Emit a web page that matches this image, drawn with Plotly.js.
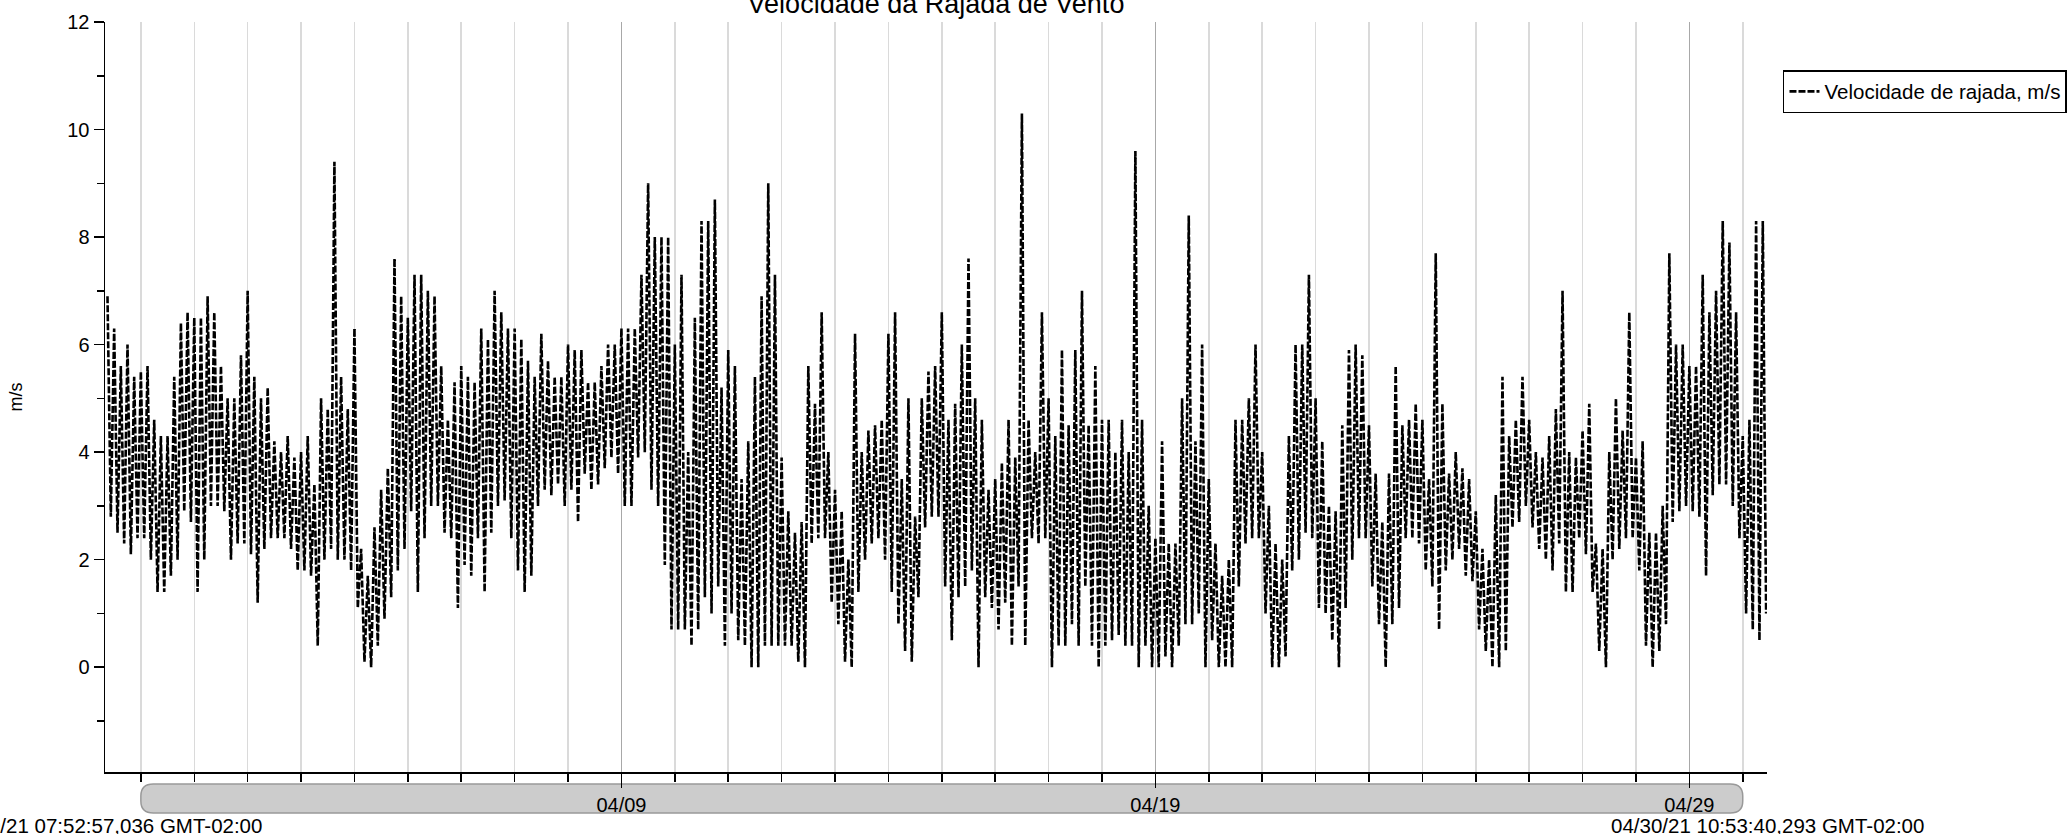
<!DOCTYPE html>
<html>
<head>
<meta charset="utf-8">
<script src="https://cdn.plot.ly/plotly-3.0.1.min.js"></script>
<style>html,body{margin:0;padding:0;background:#fff;}#chart{width:2067px;height:834px;}</style>
</head>
<body>
<div id="chart"></div>
<script>
// ---- data (3-hour slots from 2021-03-30 09:00; high value at slot start, low value 1.5 h later) ----
const rangeStart = '2021-03-30 07:52:57';
const rangeEnd = '2021-04-30 10:53:40';
const slotStart = '2021-03-30 09:00:00';
const slotHours = 3;
const seriesName = 'Velocidade de rajada, m/s';
const chartTitle = 'Velocidade da Rajada de Vento';
const yTitle = 'm/s';
const startLabel = '03/30/21 07:52:57,036 GMT-02:00';
const endLabel = '04/30/21 10:53:40,293 GMT-02:00';

const gustHigh = [
  6.9, 6.3, 5.6, 6.0, 5.4,                 // 03/30
  5.5, 5.6, 4.6, 4.3, 4.3, 5.4, 6.4, 6.6,  // 03/31
  6.5, 6.5, 6.9, 6.6, 5.6, 5.0, 5.0, 5.8,  // 04/01
  7.0, 5.4, 5.0, 5.2, 4.2, 4.0, 4.3, 3.9,  // 04/02
  4.0, 4.3, 3.4, 5.0, 4.8, 9.4, 5.4, 4.8,  // 04/03
  6.3, 2.2, 1.7, 2.6, 3.3, 3.7, 7.6, 6.9,  // 04/04
  6.5, 7.3, 7.3, 7.0, 6.9, 5.6, 4.6, 5.3,  // 04/05
  5.6, 5.4, 5.3, 6.3, 6.1, 7.0, 6.6, 6.3,  // 04/06
  6.3, 6.1, 5.7, 5.4, 6.2, 5.7, 5.4, 5.4,  // 04/07
  6.0, 5.9, 5.9, 5.3, 5.3, 5.6, 6.0, 6.0,  // 04/08
  6.3, 6.3, 6.3, 7.3, 9.0, 8.0, 8.0, 8.0,  // 04/09
  6.0, 7.3, 4.0, 6.5, 8.3, 8.3, 8.7, 5.2,  // 04/10
  5.9, 5.6, 3.5, 4.2, 5.4, 6.9, 9.0, 7.3,  // 04/11
  3.9, 2.9, 2.5, 2.7, 5.6, 4.9, 6.6, 4.0,  // 04/12
  3.3, 2.9, 2.0, 6.2, 4.0, 4.4, 4.5, 4.6,  // 04/13
  6.2, 6.6, 3.5, 5.0, 2.8, 5.0, 5.5, 5.6,  // 04/14
  6.6, 4.6, 4.9, 6.0, 7.6, 5.0, 4.6, 3.3,  // 04/15
  3.5, 3.8, 4.6, 3.9, 10.3, 4.6, 4.0, 6.6, // 04/16
  5.0, 4.3, 5.9, 4.5, 5.9, 7.0, 4.5, 5.6,  // 04/17
  4.6, 4.6, 4.0, 4.6, 4.0, 9.6, 4.6, 3.0,  // 04/18
  2.4, 4.2, 2.3, 2.3, 5.0, 8.4, 4.2, 6.0,  // 04/19
  3.5, 2.3, 1.7, 2.0, 4.6, 4.6, 5.0, 6.0,  // 04/20
  4.0, 3.0, 2.3, 2.0, 4.3, 6.0, 6.0, 7.3,  // 04/21
  5.0, 4.2, 3.0, 2.9, 4.5, 5.9, 6.0, 5.8,  // 04/22
  4.5, 3.6, 2.7, 3.6, 5.6, 4.5, 4.6, 4.9,  // 04/23
  4.6, 3.5, 7.7, 4.9, 3.6, 4.0, 3.7, 3.5,  // 04/24
  2.9, 2.2, 2.0, 3.2, 5.4, 4.3, 4.6, 5.4,  // 04/25
  4.6, 4.0, 3.9, 4.3, 4.8, 7.0, 4.0, 3.9,  // 04/26
  4.4, 4.9, 2.3, 2.2, 4.0, 5.0, 4.4, 6.6,  // 04/27
  3.9, 4.2, 2.5, 2.5, 3.0, 7.7, 6.0, 6.0,  // 04/28
  5.6, 5.6, 7.3, 6.6, 7.0, 8.3, 7.9, 6.6,  // 04/29
  4.3, 4.6, 8.3, 8.3                       // 04/30
];
const gustLow = [
  2.8, 2.5, 2.3, 2.1, 2.4,                 // 03/30
  2.4, 2.0, 1.4, 1.4, 1.7, 2.0, 2.9, 2.7,  // 03/31
  1.4, 2.0, 3.0, 3.0, 2.9, 2.0, 2.3, 2.3,  // 04/01
  2.1, 1.2, 2.2, 2.4, 2.4, 2.4, 2.2, 1.8,  // 04/02
  1.8, 1.7, 0.4, 2.0, 2.2, 2.0, 2.0, 1.8,  // 04/03
  1.1, 0.1, 0.0, 0.4, 0.9, 1.3, 1.8, 2.2,  // 04/04
  2.9, 1.4, 2.4, 3.0, 3.0, 2.5, 2.4, 1.1,  // 04/05
  1.9, 1.7, 2.4, 1.4, 2.5, 3.0, 3.1, 2.4,  // 04/06
  1.8, 1.4, 1.7, 3.0, 3.3, 3.2, 3.4, 3.0,  // 04/07
  3.3, 2.7, 3.6, 3.3, 3.4, 3.7, 3.9, 3.6,  // 04/08
  3.0, 3.0, 3.9, 4.0, 3.3, 3.0, 1.9, 0.7,  // 04/09
  0.7, 0.7, 0.4, 0.7, 1.3, 1.0, 1.5, 0.4,  // 04/10
  1.0, 0.5, 0.4, 0.0, 0.0, 0.4, 0.4, 0.4,  // 04/11
  0.4, 0.4, 0.1, 0.0, 2.3, 2.4, 2.4, 1.2,  // 04/12
  0.8, 0.1, 0.0, 1.4, 2.0, 2.3, 2.4, 2.0,  // 04/13
  1.4, 0.8, 0.3, 0.1, 1.3, 2.6, 2.8, 2.8,  // 04/14
  1.5, 0.5, 1.3, 1.5, 1.8, 0.0, 1.3, 1.1,  // 04/15
  0.7, 1.2, 0.4, 1.5, 0.4, 2.4, 2.3, 2.4,  // 04/16
  0.0, 0.4, 0.4, 0.8, 0.4, 1.5, 0.4, 0.0,  // 04/17
  0.4, 0.5, 0.6, 0.4, 0.4, 0.0, 0.4, 0.0,  // 04/18
  0.0, 0.2, 0.0, 0.4, 0.8, 0.8, 1.0, 0.0,  // 04/19
  0.5, 0.0, 0.0, 0.0, 1.5, 2.3, 2.4, 2.4,  // 04/20
  1.0, 0.0, 0.0, 0.2, 1.8, 2.0, 2.5, 2.4,  // 04/21
  1.1, 1.0, 0.5, 0.0, 1.1, 2.0, 2.4, 2.4,  // 04/22
  1.5, 0.8, 0.0, 0.8, 1.1, 2.4, 2.4, 2.3,  // 04/23
  1.8, 1.5, 0.7, 1.8, 2.0, 2.2, 1.7, 1.6,  // 04/24
  0.7, 0.3, 0.0, 0.0, 0.3, 2.6, 2.7, 3.0,  // 04/25
  2.6, 2.2, 2.0, 1.8, 2.3, 1.4, 1.4, 2.4,  // 04/26
  2.1, 1.4, 0.3, 0.0, 2.0, 2.2, 2.4, 2.4,  // 04/27
  1.8, 0.4, 0.0, 0.3, 0.8, 2.7, 2.9, 3.0,  // 04/28
  2.9, 2.8, 1.7, 3.2, 3.4, 3.4, 3.0, 2.4,  // 04/29
  1.0, 0.7, 0.5, 1.0                       // 04/30
];

// ---- build trace ----
function toMs(s){ return Date.parse(s.replace(' ', 'T') + 'Z'); }
function fmt(ms){ return new Date(ms).toISOString().replace('T', ' ').slice(0, 19); }
const t0 = toMs(slotStart);
const H = 3600e3;
const xs = [], ys = [];
for (let i = 0; i < gustHigh.length; i++) {
  const t = t0 + i * slotHours * H;
  xs.push(fmt(t)); ys.push(gustHigh[i]);
  xs.push(fmt(t + slotHours * H / 2)); ys.push(gustLow[i]);
}

const FONT = 'Liberation Sans, Arial, sans-serif';
const rs = toMs(rangeStart), re = toMs(rangeEnd);
function px(s){ return (toMs(s) - rs) / (re - rs); }
const bx0 = px('2021-03-31 00:00:00'), bx1 = px('2021-04-30 00:00:00');
const by1 = -0.016, by0 = -0.0547, rx = 0.0075, ry = 0.016;
const barPath = `M${bx0+rx},${by1} L${bx1-rx},${by1} Q${bx1},${by1} ${bx1},${by1-ry} L${bx1},${by0+ry} Q${bx1},${by0} ${bx1-rx},${by0} L${bx0+rx},${by0} Q${bx0},${by0} ${bx0},${by0+ry} L${bx0},${by1-ry} Q${bx0},${by1} ${bx0+rx},${by1} Z`;

const trace = {
  type: 'scatter', mode: 'lines', name: seriesName,
  x: xs, y: ys,
  line: {color: '#000', width: 2.6, dash: '7px,2px'},
  showlegend: true
};

const layout = {
  width: 2067, height: 834,
  margin: {l: 105, r: 300, t: 22, b: 62},
  paper_bgcolor: '#fff', plot_bgcolor: '#fff',
  font: {family: FONT, size: 20, color: '#000'},
  title: {text: chartTitle, font: {family: FONT, size: 27, color: '#000'},
          xref: 'paper', x: 0.5, xanchor: 'center', yref: 'container', y: 0.9958, yanchor: 'middle'},
  showlegend: true,
  legend: {xref: 'container', yref: 'container', x: 0.8626, y: 0.916, xanchor: 'left', yanchor: 'top',
           bgcolor: '#fff', bordercolor: '#000', borderwidth: 1.5, entrywidth: 330, entrywidthmode: 'pixels',
           font: {family: FONT, size: 20.5, color: '#000'}},
  xaxis: {
    type: 'date', range: [rangeStart, rangeEnd],
    showline: true, linecolor: '#000', linewidth: 1.5, mirror: false,
    ticks: 'outside', ticklen: 14, tickwidth: 1.5, tickcolor: '#000',
    tick0: '2021-04-09', dtick: 10 * 864e5, tickformat: '%m/%d',
    tickfont: {family: FONT, size: 20, color: '#000'},
    showgrid: true, gridcolor: '#a8a8a8', gridwidth: 1.5, zeroline: false,
    minor: {tick0: '2021-03-31', dtick: 864e5, ticks: 'outside', ticklen: 8, tickwidth: 1.5, tickcolor: '#000',
            showgrid: true, gridcolor: '#dadada', gridwidth: 1.5},
    fixedrange: true
  },
  yaxis: {
    range: [-1.95, 12], tick0: 0, dtick: 2,
    showline: true, linecolor: '#000', linewidth: 1.5,
    ticks: 'outside', ticklen: 10, tickwidth: 1.5, tickcolor: '#000',
    tickfont: {family: FONT, size: 20, color: '#000'},
    showgrid: false, zeroline: false,
    minor: {dtick: 1, ticks: 'outside', ticklen: 7, tickwidth: 1.5, tickcolor: '#000', showgrid: false},
    title: {text: yTitle, font: {family: FONT, size: 18, color: '#000'}, standoff: 40},
    fixedrange: true
  },
  shapes: [
    {type: 'path', xref: 'paper', yref: 'paper', path: barPath, fillcolor: '#cccccc',
     line: {color: '#999999', width: 1.5}, layer: 'below'}
  ],
  annotations: [
    {text: startLabel, xref: 'paper', yref: 'paper', x: 0, y: -0.0707, xanchor: 'center', yanchor: 'middle',
     showarrow: false, font: {family: FONT, size: 20.5, color: '#000'}},
    {text: endLabel, xref: 'paper', yref: 'paper', x: 1, y: -0.0707, xanchor: 'center', yanchor: 'middle',
     showarrow: false, font: {family: FONT, size: 20.5, color: '#000'}}
  ]
};

Plotly.newPlot('chart', [trace], layout, {staticPlot: true, displayModeBar: false});
</script>
</body>
</html>
